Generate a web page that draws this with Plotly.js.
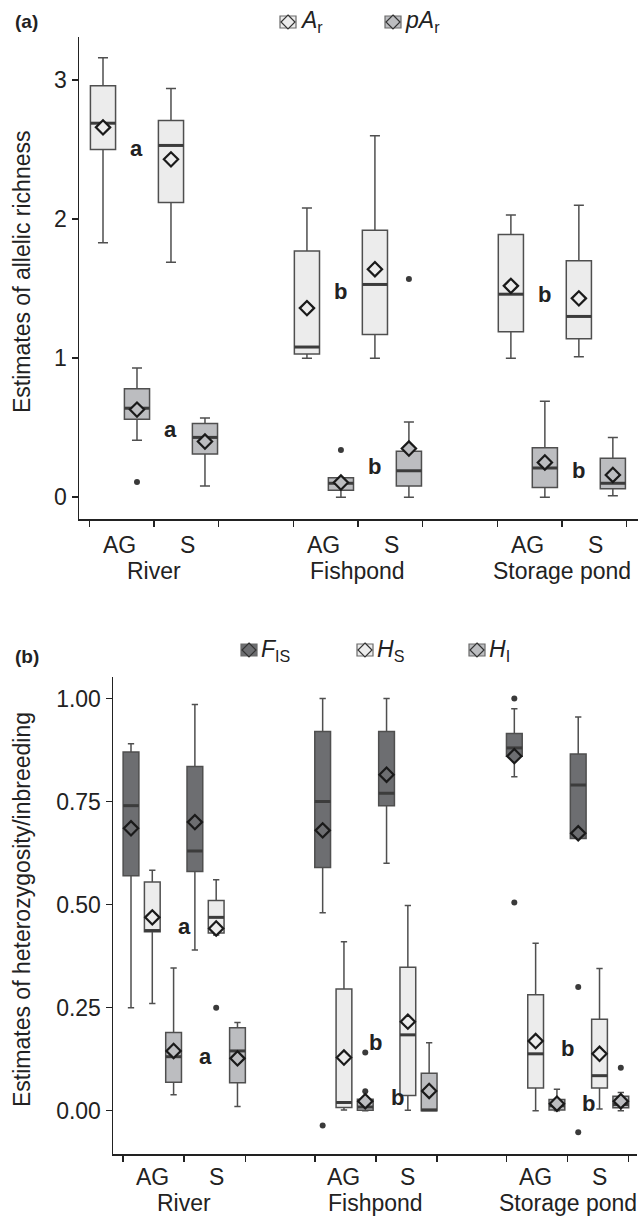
<!DOCTYPE html>
<html><head><meta charset="utf-8">
<script src="https://cdn.plot.ly/plotly-3.0.1.min.js"></script>
<style>body{margin:0;background:#fff}#chart{width:640px;height:1218px}</style>
</head><body><div id="chart"></div>
<script>
// ---------- categories ----------
const groups = ['River', 'Fishpond', 'Storage pond'];
const sites = ['AG', 'S'];
// box order in every array: River AG, River S, Fishpond AG, Fishpond S, Storage pond AG, Storage pond S

// ---------- panel (a): allelic richness ----------
const arLower  = [1.83, 1.69, 1.00, 1.00, 1.00, 1.01];
const arQ1     = [2.50, 2.12, 1.03, 1.17, 1.19, 1.14];
const arMedian = [2.69, 2.53, 1.08, 1.53, 1.46, 1.30];
const arQ3     = [2.96, 2.71, 1.77, 1.92, 1.89, 1.70];
const arUpper  = [3.16, 2.94, 2.08, 2.60, 2.03, 2.10];
const arMean   = [2.66, 2.43, 1.36, 1.64, 1.52, 1.43];
const arOutIdx = [];
const arOutVal = [];

const parLower  = [0.41, 0.08, 0.00, 0.00, 0.00, 0.01];
const parQ1     = [0.56, 0.31, 0.05, 0.08, 0.07, 0.06];
const parMedian = [0.64, 0.43, 0.10, 0.19, 0.21, 0.10];
const parQ3     = [0.78, 0.53, 0.14, 0.33, 0.355, 0.28];
const parUpper  = [0.93, 0.57, 0.14, 0.54, 0.69, 0.43];
const parMean   = [0.63, 0.40, 0.105, 0.35, 0.25, 0.16];
const parOutIdx = [0, 2, 3];
const parOutVal = [0.11, 0.34, 1.57];

// significance letters, panel (a)
const arLetters  = ['a', 'b', 'b'];
const arLetterY  = [2.51, 1.48, 1.46];
const parLetters = ['a', 'b', 'b'];
const parLetterY = [0.49, 0.22, 0.19];

// ---------- panel (b): heterozygosity / inbreeding ----------
const fisLower  = [0.25, 0.39, 0.48, 0.60, 0.81, 0.66];
const fisQ1     = [0.57, 0.58, 0.59, 0.74, 0.86, 0.66];
const fisMedian = [0.74, 0.63, 0.75, 0.77, 0.88, 0.79];
const fisQ3     = [0.87, 0.835, 0.92, 0.92, 0.915, 0.865];
const fisUpper  = [0.89, 0.985, 1.00, 1.00, 0.975, 0.955];
const fisMean   = [0.685, 0.70, 0.68, 0.815, 0.86, 0.673];
const fisOutIdx = [2, 4, 4, 5, 5];
const fisOutVal = [-0.036, 1.00, 0.505, 0.30, -0.052];

const hsLower  = [0.26, 0.426, 0.002, 0.001, 0.0, 0.004];
const hsQ1     = [0.434, 0.431, 0.008, 0.037, 0.055, 0.055];
const hsMedian = [0.437, 0.469, 0.02, 0.184, 0.138, 0.085];
const hsQ3     = [0.555, 0.51, 0.295, 0.348, 0.281, 0.222];
const hsUpper  = [0.583, 0.56, 0.41, 0.498, 0.406, 0.345];
const hsMean   = [0.469, 0.442, 0.129, 0.216, 0.169, 0.138];
const hsOutIdx = [1];
const hsOutVal = [0.25];

const hiLower  = [0.039, 0.010, 0.0, 0.0, 0.0, 0.0];
const hiQ1     = [0.069, 0.068, 0.001, 0.0, 0.002, 0.007];
const hiMedian = [0.131, 0.145, 0.009, 0.002, 0.012, 0.015];
const hiQ3     = [0.190, 0.201, 0.028, 0.091, 0.027, 0.035];
const hiUpper  = [0.346, 0.214, 0.028, 0.165, 0.052, 0.044];
const hiMean   = [0.145, 0.127, 0.023, 0.048, 0.017, 0.023];
const hiOutIdx = [2, 2, 5];
const hiOutVal = [0.141, 0.047, 0.104];

const hsLetters = ['a', 'b', 'b'];
const hsLetterY = [0.448, 0.165, 0.150];
const hiLetters = ['a', 'b', 'b'];
const hiLetterY = [0.131, 0.031, 0.017];

const aTicks = [0, 1, 2, 3];
const bTicks = [0, 0.25, 0.5, 0.75, 1];

// ---------- styling ----------
const FONT = 'Liberation Sans, Arial, Helvetica, sans-serif';
const INK = '#222222';
const LIGHT = '#ececec', MID = '#bcbdc0', DARK = '#6d6e71';
const EDGE = '#4f4f4f', MEDLINE = '#3c3c3c';
const W = 640, H = 1218;
const FS = 23;
const px = v => v / W, py = v => 1 - v / H;

// positions: slot index within x axis
const aSlots = 6, bSlots = 9, boxW = 0.74;
function posA(i, k) { const g = Math.floor(i / 2), s = i % 2; return g * aSlots + s * 2 + k; }
function posB(i, k) { const g = Math.floor(i / 2), s = i % 2; return g * bSlots + s * 3 + k; }

const traces = [];
function addSeries(pos, k, xa, ya, lo, q1, med, q3, up, mean, oIdx, oVal, fill) {
  const xs = med.map((_, i) => pos(i, k));
  traces.push({
    type: 'box', xaxis: xa, yaxis: ya, x: xs,
    lowerfence: lo, q1: q1, median: med, q3: q3, upperfence: up,
    width: boxW, whiskerwidth: 0.4, fillcolor: fill,
    line: {color: EDGE, width: 1.5}, boxpoints: false,
    hoverinfo: 'skip', showlegend: false
  });
  const mx = [], my = [];
  med.forEach((m, i) => { mx.push(xs[i] - boxW / 2, xs[i] + boxW / 2, null); my.push(m, m, null); });
  traces.push({type: 'scatter', mode: 'lines', xaxis: xa, yaxis: ya, x: mx, y: my,
    line: {color: MEDLINE, width: 3}, hoverinfo: 'skip', showlegend: false});
  if (oIdx.length) traces.push({type: 'scatter', mode: 'markers', xaxis: xa, yaxis: ya,
    x: oIdx.map(i => pos(i, k)), y: oVal,
    marker: {size: 6, color: '#3a3a3a'}, hoverinfo: 'skip', showlegend: false});
  traces.push({type: 'scatter', mode: 'markers', xaxis: xa, yaxis: ya, x: xs, y: mean,
    marker: {symbol: 'diamond', size: 11, color: fill, line: {color: '#1a1a1a', width: 2.2}},
    hoverinfo: 'skip', showlegend: false});
}
addSeries(posA, 0, 'x', 'y', arLower, arQ1, arMedian, arQ3, arUpper, arMean, arOutIdx, arOutVal, LIGHT);
addSeries(posA, 1, 'x', 'y', parLower, parQ1, parMedian, parQ3, parUpper, parMean, parOutIdx, parOutVal, MID);
addSeries(posB, 0, 'x2', 'y2', fisLower, fisQ1, fisMedian, fisQ3, fisUpper, fisMean, fisOutIdx, fisOutVal, DARK);
addSeries(posB, 1, 'x2', 'y2', hsLower, hsQ1, hsMedian, hsQ3, hsUpper, hsMean, hsOutIdx, hsOutVal, LIGHT);
addSeries(posB, 2, 'x2', 'y2', hiLower, hiQ1, hiMedian, hiQ3, hiUpper, hiMean, hiOutIdx, hiOutVal, MID);

// ---------- annotations ----------
const ann = [];
const txt = (o) => Object.assign({showarrow: false, xanchor: 'center', yanchor: 'middle',
  font: {family: FONT, size: FS, color: INK}}, o);
const bold = {family: FONT, size: 22, color: INK, weight: 'bold'};
groups.forEach((g, gi) => {
  const ca = gi * aSlots + 1.5, cb = gi * bSlots + 2.5;
  sites.forEach((s, si) => {
    ann.push(txt({xref: 'x', yref: 'paper', x: gi * aSlots + si * 2 + 0.5, y: py(545), text: s}));
    ann.push(txt({xref: 'x2', yref: 'paper', x: gi * bSlots + si * 3 + 1, y: py(1177), text: s}));
  });
  ann.push(txt({xref: 'x', yref: 'paper', x: ca, y: py(571), text: g}));
  ann.push(txt({xref: 'x2', yref: 'paper', x: cb, y: py(1203), text: g}));
  ann.push(txt({xref: 'x', yref: 'y', x: gi * aSlots + 1, y: arLetterY[gi], text: '<b>' + arLetters[gi] + '</b>', font: bold}));
  ann.push(txt({xref: 'x', yref: 'y', x: gi * aSlots + 2, y: parLetterY[gi], text: '<b>' + parLetters[gi] + '</b>', font: bold}));
  ann.push(txt({xref: 'x2', yref: 'y2', x: cb, y: hsLetterY[gi], text: '<b>' + hsLetters[gi] + '</b>', font: bold}));
  ann.push(txt({xref: 'x2', yref: 'y2', x: cb + 1, y: hiLetterY[gi], text: '<b>' + hiLetters[gi] + '</b>', font: bold}));
});
// y titles
ann.push(txt({xref: 'paper', yref: 'paper', x: px(22), y: py(272), text: 'Estimates of allelic richness', textangle: -90}));
ann.push(txt({xref: 'paper', yref: 'paper', x: px(22), y: py(910), text: 'Estimates of heterozygosity/inbreeding', textangle: -90}));
// panel labels
ann.push(txt({xref: 'paper', yref: 'paper', x: px(13), y: py(22), xanchor: 'left', text: '<b>(a)</b>', font: {family: FONT, size: 19, color: INK, weight: 'bold'}}));
ann.push(txt({xref: 'paper', yref: 'paper', x: px(13), y: py(657), xanchor: 'left', text: '<b>(b)</b>', font: {family: FONT, size: 19, color: INK, weight: 'bold'}}));

// legends (key = box + mean diamond)
const shapes = [];
function legendKey(cx, cy, fill, label) {
  shapes.push({type: 'rect', xref: 'paper', yref: 'paper', x0: px(cx - 8), x1: px(cx + 8), y0: py(cy + 6), y1: py(cy - 6),
    fillcolor: fill, line: {color: '#6a6a6a', width: 1.2}});
  shapes.push({type: 'path', xref: 'paper', yref: 'paper',
    path: `M ${px(cx)} ${py(cy - 7)} L ${px(cx + 7)} ${py(cy)} L ${px(cx)} ${py(cy + 7)} L ${px(cx - 7)} ${py(cy)} Z`,
    fillcolor: fill, line: {color: '#333', width: 1.2}});
  ann.push(txt({xref: 'paper', yref: 'paper', x: px(cx + 10), y: py(cy), xanchor: 'left', text: label}));
}
legendKey(288, 22, LIGHT, '<i>A</i><sub>r</sub>');
legendKey(393, 22, MID, '<i>pA</i><sub>r</sub>');
legendKey(249, 650, DARK, '<i>F</i><sub>IS</sub>');
legendKey(365, 650, LIGHT, '<i>H</i><sub>S</sub>');
legendKey(477, 650, MID, '<i>H</i><sub>I</sub>');

// axis ticks at group boundaries
const aTickVals = [], bTickVals = [];
groups.forEach((g, gi) => {
  const ca = gi * aSlots + 1.5, cb = gi * bSlots + 2.5;
  aTickVals.push(ca - 1.9, ca, ca + 1.9);
  bTickVals.push(cb - 2.87, cb, cb + 2.87);
});

const axisCommon = {showline: true, linecolor: INK, linewidth: 1.5, ticks: 'outside', ticklen: 6, tickwidth: 1.5,
  tickcolor: INK, showgrid: false, zeroline: false, fixedrange: true,
  tickfont: {family: FONT, size: FS, color: INK}};

const layout = {
  width: W, height: H, margin: {l: 0, r: 0, t: 0, b: 0},
  paper_bgcolor: '#fff', plot_bgcolor: '#fff', showlegend: false, boxmode: 'overlay',
  xaxis: Object.assign({}, axisCommon, {domain: [px(79), px(638)], range: [-0.706, 15.74], tickvals: aTickVals, showticklabels: false, anchor: 'y'}),
  yaxis: Object.assign({}, axisCommon, {domain: [py(519), py(37)], range: [-0.157, 3.31], tickvals: aTicks, anchor: 'x'}),
  xaxis2: Object.assign({}, axisCommon, {domain: [px(113), px(637)], range: [-0.845, 23.76], tickvals: bTickVals, showticklabels: false, anchor: 'y2'}),
  yaxis2: Object.assign({}, axisCommon, {domain: [py(1154), py(677)], range: [-0.105, 1.052], tickvals: bTicks, tickformat: '.2f', anchor: 'x2'}),
  annotations: ann, shapes: shapes
};
Plotly.newPlot('chart', traces, layout, {staticPlot: true, displayModeBar: false});
</script></body></html>
